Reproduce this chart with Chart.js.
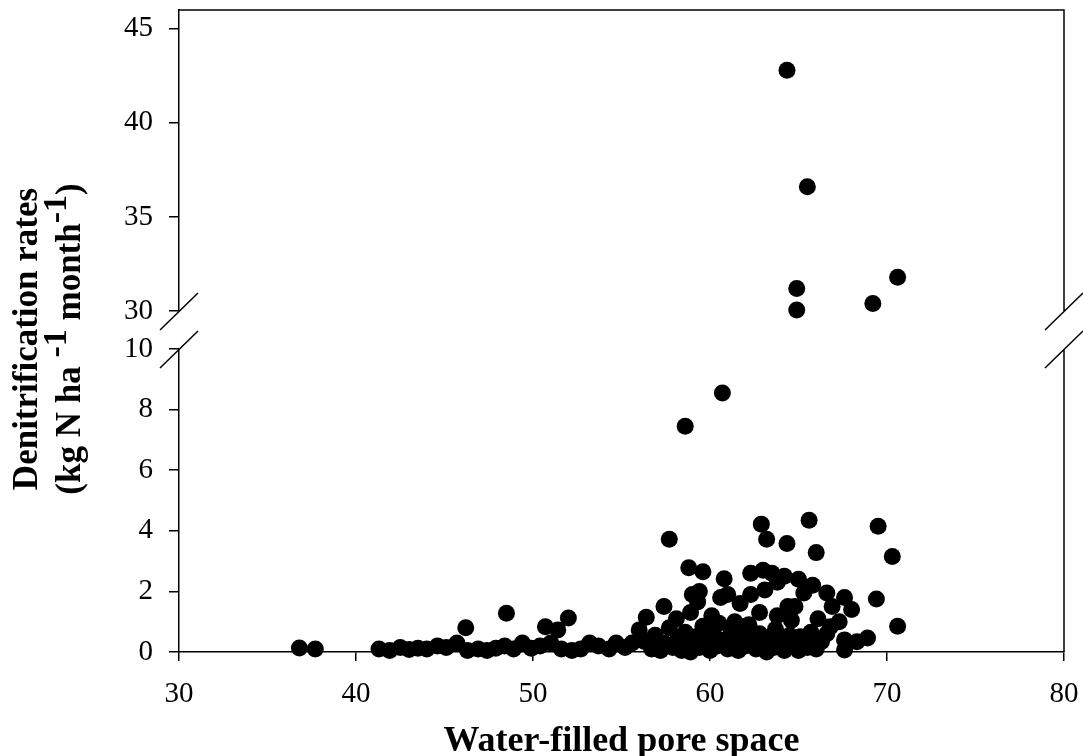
<!DOCTYPE html>
<html>
<head>
<meta charset="utf-8">
<script src="https://cdn.jsdelivr.net/npm/chart.js@4.4.0/dist/chart.umd.min.js"></script>
<style>
  html, body { margin: 0; padding: 0; background: #fff; }
</style>
</head>
<body>
<canvas id="denitChart" width="1083" height="756"></canvas>
<script>
// tick labels
const xTicks = [30, 40, 50, 60, 70, 80];
const lowTicks = [0, 2, 4, 6, 8, 10];
const highTicks = [30, 35, 40, 45];

// lower panel (0 - 10)
const wfpsLow = [
  36.8, 37.7, 41.3, 41.9, 42.5, 43.0, 43.5, 44.0, 44.6, 45.1, 45.7, 46.2, 46.3, 46.9, 47.4, 47.9,
  48.4, 48.5, 48.9, 49.4, 49.9, 50.4, 50.7, 51.0, 51.4, 51.6, 52.0, 52.2, 52.7, 53.2, 53.7, 54.3,
  54.7, 55.2, 55.6, 56.0, 56.4, 57.4, 57.7, 58.1, 58.6, 58.8, 58.9, 59.0, 59.4, 59.6, 59.3, 60.1,
  60.6, 60.7, 60.8, 61.0, 61.4, 61.7, 62.0, 62.3, 62.3, 62.8, 62.9, 63.0, 63.1, 63.2, 63.5, 63.8,
  63.8, 64.2, 64.35, 64.4, 64.6, 64.8, 65.0, 65.3, 65.6, 65.8, 66.0, 66.1, 66.6, 66.9, 67.3, 67.6,
  68.0, 69.4, 69.5, 70.3, 70.6, 68.9, 68.3, 67.6, 67.6, 66.8, 66.6, 65.8, 65.1, 64.35,
  56.3, 56.7, 56.9, 57.2, 57.4, 57.7, 57.9, 58.2, 58.4, 58.6, 58.8, 58.9, 59.2, 59.4, 59.6, 59.8,
  60.0, 60.2, 60.4, 60.5, 60.8, 61.0, 61.2, 61.4, 61.6, 61.8, 62.0, 62.2, 62.4, 62.6, 62.8, 63.0,
  63.2, 63.4, 63.6, 63.7, 64.0, 64.2, 64.5, 64.7, 65.0, 65.3, 65.5, 65.7, 66.0, 66.3
];
const rateLow = [
  0.13, 0.10, 0.10, 0.05, 0.15, 0.08, 0.12, 0.10, 0.20, 0.15, 0.30, 0.80, 0.05, 0.10, 0.05, 0.12,
  0.20, 1.28, 0.10, 0.30, 0.12, 0.20, 0.83, 0.30, 0.73, 0.10, 1.12, 0.05, 0.10, 0.30, 0.20, 0.10,
  0.30, 0.15, 0.30, 0.73, 1.15, 1.50, 3.72, 1.10, 7.45, 2.78, 1.30, 1.90, 2.00, 2.65, 1.65, 1.20,
  1.80, 8.55, 2.42, 1.90, 1.00, 1.60, 0.85, 2.60, 1.90, 1.30, 4.22, 2.70, 2.05, 3.72, 2.60, 2.30,
  1.20, 2.50, 3.58, 1.50, 1.05, 1.50, 2.40, 1.95, 4.35, 2.20, 3.28, 1.10, 1.95, 1.50, 1.00, 1.80,
  1.40, 1.75, 4.15, 3.15, 0.85, 0.46, 0.34, 0.40, 0.07, 0.83, 0.60, 0.40, 0.50, 0.17,
  0.35, 0.10, 0.55, 0.05, 0.30, 0.80, 0.15, 0.45, 0.05, 0.65, 0.25, 0.00, 0.50, 0.15, 0.85, 0.35,
  0.05, 0.60, 0.20, 0.95, 0.40, 0.10, 0.70, 0.30, 0.05, 0.50, 0.20, 0.90, 0.40, 0.10, 0.60, 0.25,
  0.00, 0.45, 0.15, 0.75, 0.30, 0.05, 0.55, 0.25, 0.05, 0.30, 0.15, 0.65, 0.10, 0.35
];

// upper panel (30 - 46)
const wfpsHigh = [64.35, 65.5, 64.9, 64.9, 69.2, 70.6];
const rateHigh = [42.8, 36.6, 31.2, 30.05, 30.4, 31.8];

const serif = "'Liberation Serif', 'Times New Roman', serif";
const tickFont = { family: serif, size: 29 };

function fixTicks(list) {
  return scale => { scale.ticks = list.map(v => ({ value: v })); };
}
// keep the plot box where it is in the original: no extra room for edge labels
function yFit(scale) {
  scale.width = 179;
  scale.paddingTop = 0;
  scale.paddingBottom = 0;
}

const yCommon = {
  type: 'linear',
  position: 'left',
  stack: 'rate',
  afterFit: yFit,
  grid: { drawOnChartArea: false, drawTicks: true, tickLength: 10, color: '#000', lineWidth: 1.5 },
  border: { display: true, color: '#000', width: 1.5 },
  ticks: { font: tickFont, color: '#000', padding: 16, autoSkip: false }
};

// frame, axis breaks and the y title with superscripts
const framePlugin = {
  id: 'frame',
  afterDraw(chart) {
    const { ctx, chartArea } = chart;
    const breakTop = chart.scales.yHigh.bottom;
    const breakBottom = chart.scales.yLow.top;
    ctx.save();
    ctx.strokeStyle = '#000';
    ctx.lineWidth = 1.5;
    ctx.beginPath();
    ctx.moveTo(chartArea.left, chartArea.top);
    ctx.lineTo(chartArea.right, chartArea.top);
    ctx.lineTo(chartArea.right, breakTop);
    ctx.moveTo(chartArea.right, breakBottom);
    ctx.lineTo(chartArea.right, chartArea.bottom);
    [chartArea.left, chartArea.right].forEach(x => {
      [breakTop, breakBottom].forEach(y => {
        ctx.moveTo(x - 19, y + 19);
        ctx.lineTo(x + 19, y - 18);
      });
    });
    ctx.stroke();

    // y axis title
    const cy = (chartArea.top + chartArea.bottom) / 2 + 8;
    ctx.translate(0, cy);
    ctx.rotate(-Math.PI / 2);
    ctx.fillStyle = '#000';
    ctx.textBaseline = 'alphabetic';
    ctx.textAlign = 'center';
    ctx.font = 'bold 35px ' + serif;
    ctx.fillText('Denitrification rates', 0, 37);

    const parts = [
      { t: '(kg N ha ', sup: false },
      { t: '-1', sup: true },
      { t: ' month', sup: false },
      { t: '-1', sup: true },
      { t: ')', sup: false }
    ];
    const normalFont = 'bold 35px ' + serif;
    const supFont = 'bold 34px ' + serif;
    let total = 0;
    parts.forEach(p => {
      ctx.font = p.sup ? supFont : normalFont;
      p.w = ctx.measureText(p.t).width;
      total += p.w;
    });
    ctx.textAlign = 'left';
    let px = -total / 2;
    parts.forEach(p => {
      ctx.font = p.sup ? supFont : normalFont;
      ctx.fillText(p.t, px, p.sup ? 66 : 80);
      px += p.w;
    });
    ctx.restore();
  }
};

const ctx = document.getElementById('denitChart').getContext('2d');

new Chart(ctx, {
  type: 'scatter',
  data: {
    datasets: [
      {
        label: 'low',
        data: wfpsLow.map((x, i) => ({ x: x, y: rateLow[i] })),
        yAxisID: 'yLow',
        backgroundColor: '#000',
        borderWidth: 0,
        pointRadius: 8.5,
        clip: false
      },
      {
        label: 'high',
        data: wfpsHigh.map((x, i) => ({ x: x, y: rateHigh[i] })),
        yAxisID: 'yHigh',
        backgroundColor: '#000',
        borderWidth: 0,
        pointRadius: 8.5,
        clip: false
      }
    ]
  },
  options: {
    responsive: false,
    animation: false,
    layout: { padding: { left: 0, right: 19, top: 10, bottom: 0 } },
    plugins: {
      legend: { display: false },
      tooltip: { enabled: false }
    },
    scales: {
      x: {
        type: 'linear',
        min: 30,
        max: 80,
        afterBuildTicks: fixTicks(xTicks),
        afterFit: scale => {
          scale.height = 104;
          scale.paddingLeft = 0;
          scale.paddingRight = 0;
        },
        grid: { drawOnChartArea: false, drawTicks: true, tickLength: 9, color: '#000', lineWidth: 1.5 },
        border: { display: true, color: '#000', width: 1.5 },
        ticks: { font: tickFont, color: '#000', padding: 16, autoSkip: false, maxRotation: 0 },
        title: {
          display: true,
          text: 'Water-filled pore space',
          color: '#000',
          font: { family: serif, size: 36, weight: 'bold' },
          padding: { top: 0, bottom: -7 }
        }
      },
      yLow: Object.assign({}, yCommon, {
        min: 0, max: 10, stackWeight: 303,
        afterBuildTicks: fixTicks(lowTicks)
      }),
      yGap: {
        type: 'linear',
        position: 'left',
        stack: 'rate',
        stackWeight: 38,
        min: 0, max: 1,
        afterFit: yFit,
        grid: { display: false },
        border: { display: false },
        ticks: { display: false }
      },
      yHigh: Object.assign({}, yCommon, {
        min: 30, max: 46, stackWeight: 301,
        afterBuildTicks: fixTicks(highTicks)
      })
    }
  },
  plugins: [framePlugin]
});
</script>
</body>
</html>
